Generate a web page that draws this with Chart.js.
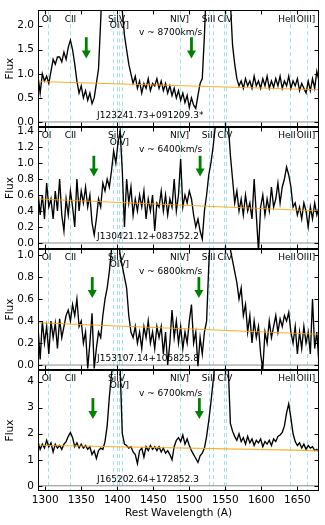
<!DOCTYPE html>
<html><head><meta charset="utf-8">
<script src="https://cdn.jsdelivr.net/npm/chart.js@4.4.0/dist/chart.umd.min.js"></script>
<style>
html,body{margin:0;padding:0;background:#fff;}
#wrap{position:relative;width:325px;height:525px;overflow:hidden;background:#fff;}
canvas{position:absolute;left:0;top:0;}
</style></head><body>
<div id="wrap">
<canvas id="c1" width="325" height="525"></canvas>
<canvas id="c2" width="325" height="525"></canvas>
<canvas id="c3" width="325" height="525"></canvas>
<canvas id="c4" width="325" height="525"></canvas>
</div>
<script>
// ---- data ----
const wavelength = [
1290,1293,1296,1299,1302,1305,1308,1311,1314,1317,
1320,1323,1326,1329,1332,1335,1338,1341,1344,1347,
1350,1353,1356,1359,1362,1365,1368,1371,1374,1377,
1380,1383,1386,1389,1392,1395,1398,1401,1404,1407,
1410,1413,1416,1419,1422,1425,1428,1431,1434,1437,
1440,1443,1446,1449,1452,1455,1458,1461,1464,1467,
1470,1473,1476,1479,1482,1485,1488,1491,1494,1497,
1500,1503,1506,1509,1512,1515,1518,1521,1524,1527,
1530,1533,1536,1539,1542,1545,1548,1551,1554,1557,
1560,1563,1566,1569,1572,1575,1578,1581,1584,1587,
1590,1593,1596,1599,1602,1605,1608,1611,1614,1617,
1620,1623,1626,1629,1632,1635,1638,1641,1644,1647,
1650,1653,1656,1659,1662,1665,1668,1671,1674,1677,
1680];

const flux1 = [
0.95,0.6,1.0,0.85,0.95,0.8,1.05,1.3,1.2,1.35,
1.35,1.25,1.45,1.3,1.55,1.7,1.5,1.2,0.85,0.6,
0.75,0.5,0.65,0.45,0.6,0.38,0.5,0.8,1.1,2.1,
3.2,3.5,4.0,4.2,4.3,4.1,4.0,3.6,3.0,2.3,
1.8,1.5,1.2,1.0,0.8,0.95,0.7,0.85,0.6,0.8,
0.7,0.9,0.65,0.8,0.75,0.9,0.7,0.85,0.65,0.8,
0.6,0.75,0.55,0.7,0.5,0.65,0.45,0.6,0.4,0.55,
0.3,0.5,0.35,0.28,0.55,0.8,0.9,1.8,3.0,4.0,
4.5,5,5,5,5,5,4.5,4.0,3.2,2.5,
1.6,1.2,0.9,0.75,0.85,0.7,0.9,0.75,0.85,0.7,
0.95,0.75,0.85,0.7,0.9,0.75,0.95,0.7,0.85,0.72,
0.9,0.75,0.95,0.7,0.85,0.75,0.95,0.7,0.85,0.75,
0.9,0.65,0.8,0.7,0.6,0.85,0.65,0.9,0.7,1.05,
0.85];

const flux2 = [
0.65,0.35,0.6,0.3,0.75,0.45,0.55,0.3,0.65,0.4,
0.8,0.35,0.15,0.55,0.35,0.65,0.45,0.2,0.8,0.4,
0.65,0.5,0.7,0.45,0.6,0.25,0.1,0.3,0.55,0.45,
0.75,0.65,0.8,0.7,0.9,1.15,1.0,1.25,1.4,0.9,
0.2,0.8,0.5,0.7,0.35,0.55,0.4,0.6,0.45,0.65,
0.3,0.55,0.4,0.6,0.15,0.5,0.45,0.65,0.4,0.6,
0.35,0.55,0.45,0.8,0.4,0.6,1.05,0.45,0.6,0.5,
0.65,0.55,0.35,0.2,0.3,0.15,0.05,0.4,0.6,0.85,
1.0,1.2,1.45,1.8,2.0,2.0,1.9,1.7,1.5,1.1,
0.8,0.5,0.65,0.4,0.55,0.35,0.6,0.4,0.5,0.3,
0.8,0.35,-0.1,0.45,0.6,0.35,0.55,0.4,0.7,0.45,
0.55,0.75,0.5,0.7,0.8,0.95,0.85,0.7,0.45,0.5,
0.35,0.45,0.3,0.5,0.4,0.2,0.45,0.3,0.5,0.35,
0.45];

const flux3 = [
0.35,0.05,0.4,0.2,0.35,0.1,0.4,0.25,0.38,0.15,
0.42,0.25,0.35,0.45,0.5,0.4,0.55,0.45,0.6,0.35,
0.4,0.2,0.3,-0.03,0.2,0.47,-0.03,0.15,0.3,0.25,
0.45,0.6,0.7,0.85,1.05,1.2,1.1,1.2,1.0,0.9,
0.8,0.7,0.45,0.3,0.25,0.35,0.2,0.3,0.15,0.35,
0.25,0.4,0.2,0.3,0.15,0.35,0.25,0.35,0.1,0.3,
0.0,0.2,0.5,0.25,0.4,0.2,0.35,0.15,0.3,0.2,
0.4,0.55,0.2,0.3,-0.01,0.25,0.1,0.3,0.4,0.9,
1.3,1.5,1.6,1.6,1.5,1.4,1.3,1.2,1.1,1.05,
0.95,0.85,0.75,0.6,0.7,0.45,0.55,0.3,0.45,0.2,
0.4,0.25,0.35,0.1,-0.04,0.3,0.2,0.4,0.25,0.35,
0.45,0.3,0.42,0.35,0.45,0.4,0.48,0.3,0.2,0.35,
0.1,0.3,0.15,0.35,0.2,0.3,0.1,0.6,0.15,0.3,
0.0];

const flux4 = [
1.7,1.4,1.6,1.45,1.75,1.5,1.65,1.3,1.6,1.45,
1.55,1.4,1.6,1.7,1.9,2.05,1.85,1.5,1.65,1.45,
1.6,1.45,1.55,1.4,1.5,1.2,1.35,1.05,1.35,1.45,
1.4,1.7,2.3,3.4,4.3,4.8,4.6,4.5,4.5,2.0,
1.6,1.55,1.45,1.5,1.3,1.2,0.85,1.35,1.45,1.1,
1.5,1.35,1.55,1.4,1.5,1.35,1.5,1.3,1.45,1.25,
1.35,1.2,1.0,1.5,1.75,1.85,1.7,1.95,1.6,1.8,
1.55,1.35,1.2,1.05,0.9,1.15,1.25,1.45,1.9,2.5,
3.2,4.0,4.8,5.2,5.3,5.2,5.0,4.5,4.6,2.4,
2.1,1.9,1.75,2.0,1.7,1.85,1.6,1.9,1.65,1.8,
1.55,1.75,1.65,1.8,1.5,1.7,1.6,1.75,1.55,1.8,
1.7,1.9,1.95,2.05,2.3,2.8,3.15,2.6,2.0,1.7,
1.55,1.65,1.45,1.6,1.4,1.55,1.45,1.5,1.35,1.4,
1.3];

// continuum fits (orange)
const contWave = [1290, 1680];
const cont1 = [0.84, 0.67];
const cont2 = [0.55, 0.40];
const cont3 = [0.385, 0.28];
const cont4 = [1.56, 1.35];

// axis ticks
const xTicks = [1300,1350,1400,1450,1500,1550,1600,1650];
const xTickLabels = ['1300','1350','1400','1450','1500','1550','1600','1650'];
const yTicks1 = [0,0.5,1.0,1.5,2.0];
const yTickLabels1 = ['0.0','0.5','1.0','1.5','2.0'];
const yTicks2 = [0,0.2,0.4,0.6,0.8,1.0,1.2,1.4];
const yTickLabels2 = ['0.0','0.2','0.4','0.6','0.8','1.0','1.2','1.4'];
const yTicks3 = [0,0.2,0.4,0.6,0.8,1.0];
const yTickLabels3 = ['0.0','0.2','0.4','0.6','0.8','1.0'];
const yTicks4 = [0,1,2,3,4];
const yTickLabels4 = ['0','1','2','3','4'];

// emission line markers
const lineWave = [1304, 1334.5, 1393.8, 1399.8, 1402.8, 1406.0, 1486.5, 1526.7, 1533.4, 1548.2, 1550.8, 1640.4, 1663.5];
const labelNames = ['OI','CII','SiIV','OIV]','NIV]','SiII','CIV','HeII','OIII]'];
const labelWave = [1302, 1335, 1399, 1403, 1486.5, 1526.7, 1549.5, 1635.5, 1662];
const labelRow = [0,0,0,1,0,0,0,0,0];

// outflow arrows (wavelength, top, tip)
const arrowWave1 = [1357, 1503];
const arrowWave2 = [1367.5, 1515];
const arrowWave3 = [1365.3, 1513.3];
const arrowWave4 = [1366.2, 1514];
const arrowTop = [1.76, 1.09, 0.80, 3.37];
const arrowTip = [1.32, 0.83, 0.61, 2.57];

const velocities = ['v ~ 8700km/s','v ~ 6400km/s','v ~ 6800km/s','v ~ 6700km/s'];
const velY = [1.86, 1.17, 0.85, 3.56];
const objectNames = ['J123241.73+091209.3*','J130421.12+083752.2','J153107.14+105825.8','J165202.64+172852.3'];
const nameY = [0.13, 0.08, 0.06, 0.25];

// ---- layout / style ----
const W = 325, H = 525;
const panelTop = [5,127,249,370];
const panelBottom = [127,249,370,491];
const yMin = [-0.105,-0.075,-0.045,-0.2];
const yMax = [2.32,1.45,1.055,4.45];
const FONT = '"DejaVu Sans", "Bitstream Vera Sans", sans-serif';
Chart.defaults.font.family = FONT;
Chart.defaults.color = '#000';

const fluxes = [flux1, flux2, flux3, flux4];
const conts = [cont1, cont2, cont3, cont4];
const arrows = [arrowWave1, arrowWave2, arrowWave3, arrowWave4];
const yTicksAll = [yTicks1, yTicks2, yTicks3, yTicks4];
const yLabelsAll = [yTickLabels1, yTickLabels2, yTickLabels3, yTickLabels4];

function decorPlugin(i) {
  return {
    id: 'decor' + i,
    beforeDatasetsDraw(chart) {
      const {ctx, chartArea: a, scales: {x}} = chart;
      ctx.save();
      ctx.beginPath(); ctx.rect(a.left, a.top, a.right - a.left, a.bottom - a.top); ctx.clip();
      ctx.strokeStyle = 'rgb(160,228,232)';
      ctx.lineWidth = 1;
      ctx.setLineDash([4, 3]);
      lineWave.forEach(w => {
        const px = Math.round(x.getPixelForValue(w)) + 0.5;
        ctx.beginPath(); ctx.moveTo(px, a.top); ctx.lineTo(px, a.bottom); ctx.stroke();
      });
      ctx.restore();
    },
    afterDatasetsDraw(chart) {
      const {ctx, chartArea: a, scales: {x, y}} = chart;
      ctx.save();
      // arrows
      ctx.fillStyle = 'rgb(0,128,0)';
      arrows[i].forEach(w => {
        const px = x.getPixelForValue(w);
        const yt = y.getPixelForValue(arrowTop[i]);
        const yb = y.getPixelForValue(arrowTip[i]);
        const head = 8, hw = 4.5, sw = 1.4;
        ctx.fillRect(px - sw, yt, sw * 2, (yb - yt) - head + 1);
        ctx.beginPath();
        ctx.moveTo(px - hw, yb - head); ctx.lineTo(px + hw, yb - head); ctx.lineTo(px, yb);
        ctx.closePath(); ctx.fill();
      });
      // line labels
      ctx.fillStyle = '#000';
      ctx.font = '9px ' + FONT;
      ctx.textAlign = 'center';
      ctx.textBaseline = 'middle';
      labelNames.forEach((n, k) => {
        ctx.fillText(n, x.getPixelForValue(labelWave[k]), a.top + 9 + labelRow[k] * 6.5);
      });
      // velocity
      ctx.fillText(velocities[i], x.getPixelForValue(1474), y.getPixelForValue(velY[i]));
      // object name
      ctx.textAlign = 'left';
      ctx.fillText(objectNames[i], x.getPixelForValue(1372), y.getPixelForValue(nameY[i]));
      // frame
      ctx.strokeStyle = '#000';
      ctx.lineWidth = 1;
      const L = Math.round(a.left) + 0.5, R = Math.round(a.right) - 0.5;
      const T = Math.round(a.top) + 0.5, B = Math.round(a.bottom) - 0.5;
      ctx.strokeRect(L, T, R - L, B - T);
      // inward ticks
      ctx.beginPath();
      xTicks.forEach(v => {
        const px = Math.round(x.getPixelForValue(v)) + 0.5;
        ctx.moveTo(px, T); ctx.lineTo(px, T + 4);
        ctx.moveTo(px, B); ctx.lineTo(px, B - 4);
      });
      yTicksAll[i].forEach(v => {
        const py = Math.round(y.getPixelForValue(v)) + 0.5;
        ctx.moveTo(L, py); ctx.lineTo(L + 4, py);
        ctx.moveTo(R, py); ctx.lineTo(R - 4, py);
      });
      ctx.stroke();
      ctx.restore();
    }
  };
}

function makePanel(i) {
  const last = i === 3;
  const spectrum = wavelength.map((w, k) => ({x: w, y: fluxes[i][k]}));
  const cont = contWave.map((w, k) => ({x: w, y: conts[i][k]}));
  const zero = contWave.map(w => ({x: w, y: 0}));
  new Chart(document.getElementById('c' + (i + 1)), {
    type: 'line',
    data: {
      datasets: [
        {data: cont, borderColor: 'rgba(255,160,0,0.85)', borderWidth: 1.1, pointRadius: 0},
        {data: spectrum, borderColor: '#000', borderWidth: 1.35, pointRadius: 0},
        {data: zero, borderColor: 'rgb(140,140,140)', borderWidth: 1, pointRadius: 0}
      ]
    },
    options: {
      responsive: false,
      animation: false,
      devicePixelRatio: 1,
      events: [],
      layout: {padding: {top: panelTop[i], bottom: last ? 0 : H - panelBottom[i], left: 0, right: 6}},
      plugins: {legend: {display: false}, tooltip: {enabled: false}},
      elements: {line: {tension: 0}},
      scales: {
        x: {
          type: 'linear', min: 1290, max: 1680,
          display: last,
          grid: {display: false, drawTicks: false},
          border: {display: false},
          afterBuildTicks: ax => { ax.ticks = xTicks.map(v => ({value: v})); },
          afterFit: ax => { if (last) ax.height = H - panelBottom[i]; },
          ticks: {autoSkip: false, maxRotation: 0, padding: 3, font: {size: 10.5},
                  callback: (v, k) => xTickLabels[k]},
          title: {display: true, text: 'Rest Wavelength (A)', font: {size: 10.5}, padding: {top: 0, bottom: 5}}
        },
        y: {
          type: 'linear', min: yMin[i], max: yMax[i],
          grid: {display: false, drawTicks: false},
          border: {display: false},
          afterBuildTicks: ax => { ax.ticks = yTicksAll[i].map(v => ({value: v})); },
          afterFit: ax => { ax.width = 38; },
          ticks: {autoSkip: false, padding: 4, font: {size: 10.5},
                  callback: (v, k) => yLabelsAll[i][k]},
          title: {display: true, text: 'Flux', font: {size: 10.5}, padding: {top: 4, bottom: 0}}
        }
      }
    },
    plugins: [decorPlugin(i)]
  });
}
[0, 1, 2, 3].forEach(makePanel);
</script>
</body></html>
